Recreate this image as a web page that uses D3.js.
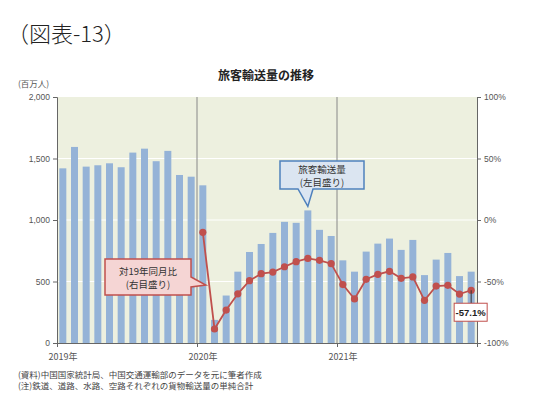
<!DOCTYPE html>
<html>
<head>
<meta charset="utf-8">
<script src="https://cdn.jsdelivr.net/npm/d3@7"></script>
<style>
  body { margin: 0; background: #fff; }
  svg { font-family: "Noto Sans CJK JP", "Noto Sans", sans-serif; }
</style>
</head>
<body>
<svg id="chart" width="540" height="414"></svg>
<script>
// Monthly passenger volume (million people), Jan 2019 - Dec 2021
const months = d3.range(36);
const passengers = [
  1420, 1594, 1434, 1445, 1461, 1429, 1548, 1580, 1478, 1562, 1366, 1352,
  1282, 188, 386, 580, 740, 805, 895, 985, 977, 1078, 920, 870,
  672, 580, 743, 808, 849, 757, 838, 552, 678, 732, 544, 580
];
// Change vs. same month of 2019 (%), from Jan 2020
const vs2019 = [
  -10.0, -88.6, -73.2, -60.0, -49.3, -43.6, -42.3, -38.0, -33.9, -31.2, -32.8, -35.5,
  -52.5, -64.2, -48.2, -44.2, -41.7, -47.4, -46.3, -65.3, -53.7, -53.1, -60.2, -57.1
];
const yearLabels = ["2019年", "2020年", "2021年"];
const leftTicks = [0, 500, 1000, 1500, 2000];
const rightTicks = [-100, -50, 0, 50, 100];

const svg = d3.select("#chart");
const margin = { top: 97, right: 63, bottom: 71, left: 57 };
const width = 540 - margin.left - margin.right;
const height = 414 - margin.top - margin.bottom;

svg.append("text")
  .attr("x", 7).attr("y", 42)
  .attr("font-size", 22).attr("font-weight", 300).attr("fill", "#222")
  .text("（図表-13）");

svg.append("text")
  .attr("x", 266).attr("y", 80)
  .attr("text-anchor", "middle")
  .attr("font-size", 12).attr("font-weight", "bold").attr("fill", "#222")
  .text("旅客輸送量の推移");

svg.append("text")
  .attr("x", 18).attr("y", 87)
  .attr("font-size", 8.5).attr("fill", "#555")
  .text("(百万人)");

const g = svg.append("g").attr("transform", `translate(${margin.left},${margin.top})`);

const x = d3.scaleBand().domain(months).range([0, width]).paddingInner(0.4).paddingOuter(0.2);
const xLin = d3.scaleLinear().domain([0, 36]).range([0, width]);
const y = d3.scaleLinear().domain([0, 2000]).range([height, 0]);
const y2 = d3.scaleLinear().domain([-100, 100]).range([height, 0]);

g.append("rect")
  .attr("width", width).attr("height", height)
  .attr("fill", "#edf0df");

// white gridlines
g.selectAll(".grid")
  .data(leftTicks.slice(1, -1))
  .join("line")
  .attr("x1", 0).attr("x2", width)
  .attr("y1", d => y(d)).attr("y2", d => y(d))
  .attr("stroke", "#fff").attr("stroke-width", 1.2);

// year dividers
g.selectAll(".yearline")
  .data([12, 24])
  .join("line")
  .attr("x1", d => xLin(d)).attr("x2", d => xLin(d))
  .attr("y1", 0).attr("y2", height)
  .attr("stroke", "#888").attr("stroke-width", 1);

g.selectAll(".bar")
  .data(passengers)
  .join("rect")
  .attr("x", (d, i) => x(i))
  .attr("y", d => y(d))
  .attr("width", x.bandwidth())
  .attr("height", d => height - y(d))
  .attr("fill", "#95b3d7");

// axes
const axisL = g.append("g")
  .call(d3.axisLeft(y).tickValues(leftTicks).tickSize(4).tickFormat(d3.format(",")));
const axisR = g.append("g")
  .attr("transform", `translate(${width},0)`)
  .call(d3.axisRight(y2).tickValues(rightTicks).tickSize(4).tickFormat(d => d + "%"));
const axisB = g.append("g")
  .attr("transform", `translate(0,${height})`)
  .call(d3.axisBottom(xLin).tickValues([0, 12, 24, 36]).tickSize(4).tickFormat(""));
[axisL, axisR, axisB].forEach(a => {
  a.selectAll("path, line").attr("stroke", "#666");
  a.selectAll("text").attr("fill", "#555").attr("font-size", 8.5)
    .attr("font-family", "Liberation Sans, Arial, sans-serif");
});

g.selectAll(".year")
  .data(yearLabels)
  .join("text")
  .attr("x", (d, i) => xLin(i * 12) + 6)
  .attr("y", height + 17)
  .attr("text-anchor", "middle")
  .attr("font-size", 9).attr("fill", "#555")
  .text(d => d);

// growth line
const lineData = vs2019.map((v, i) => ({ i: i + 12, v }));
const line = d3.line()
  .x(d => x(d.i) + x.bandwidth() / 2)
  .y(d => y2(d.v));

g.append("path")
  .datum(lineData)
  .attr("fill", "none")
  .attr("stroke", "#c0504d")
  .attr("stroke-width", 1.8)
  .attr("d", line);

g.selectAll(".pt")
  .data(lineData)
  .join("circle")
  .attr("cx", d => x(d.i) + x.bandwidth() / 2)
  .attr("cy", d => y2(d.v))
  .attr("r", 3.6)
  .attr("fill", "#c0504d");

// callout boxes with a pointer
function callout(box, tip, base, fill, stroke, lines) {
  const [bx, by, bw, bh] = box;
  const path = d3.path();
  path.moveTo(bx, by);
  path.lineTo(bx + bw, by);
  if (base.side === "right") {
    path.lineTo(bx + bw, base.a);
    path.lineTo(tip[0], tip[1]);
    path.lineTo(bx + bw, base.b);
    path.lineTo(bx + bw, by + bh);
    path.lineTo(bx, by + bh);
  } else {
    path.lineTo(bx + bw, by + bh);
    path.lineTo(base.b, by + bh);
    path.lineTo(tip[0], tip[1]);
    path.lineTo(base.a, by + bh);
    path.lineTo(bx, by + bh);
  }
  path.closePath();
  svg.append("path").attr("d", path.toString())
    .attr("fill", fill).attr("stroke", stroke).attr("stroke-width", 1.5);
  lines.forEach((t, k) => {
    svg.append("text")
      .attr("x", bx + bw / 2).attr("y", by + bh / 2 + (k - 0.5) * 13 + 4)
      .attr("text-anchor", "middle")
      .attr("font-size", 9.5).attr("fill", "#333")
      .text(t);
  });
}

const tipRed = [x(12) + x.bandwidth() / 2 + margin.left + 3, margin.top + 188];
callout([105, 259, 86, 36], tipRed, { side: "right", a: 277, b: 287 },
  "#f5d5d4", "#c0504d", ["対19年同月比", "(右目盛り)"]);

const tipBlue = [x(21) + x.bandwidth() / 2 + margin.left, y(1078) + margin.top - 4];
callout([280, 161, 84, 28], tipBlue, { side: "bottom", a: 298, b: 313 },
  "#dbe5f1", "#4f81bd", ["旅客輸送量", "(左目盛り)"]);

// last value label
const last = lineData[lineData.length - 1];
const lx = x(last.i) + x.bandwidth() / 2;
g.append("line")
  .attr("x1", lx).attr("x2", lx)
  .attr("y1", y2(last.v)).attr("y2", y2(last.v) + 13)
  .attr("stroke", "#333").attr("stroke-width", 1);
g.append("rect")
  .attr("x", lx - 17).attr("y", y2(last.v) + 13)
  .attr("width", 33).attr("height", 18)
  .attr("fill", "#fff").attr("stroke", "#c0504d").attr("stroke-width", 1);
g.append("text")
  .attr("x", lx - 0.5).attr("y", y2(last.v) + 26)
  .attr("text-anchor", "middle")
  .attr("font-size", 9.5).attr("font-weight", "bold").attr("fill", "#222")
  .attr("font-family", "Liberation Sans, Arial, sans-serif")
  .text(last.v.toFixed(1) + "%");

// notes
const notes = [
  "(資料)中国国家統計局、中国交通運輸部のデータを元に筆者作成",
  "(注)鉄道、道路、水路、空路それぞれの貨物輸送量の単純合計"
];
svg.selectAll(".note")
  .data(notes)
  .join("text")
  .attr("x", 18).attr("y", (d, i) => 378 + i * 11)
  .attr("font-size", 8.5).attr("fill", "#444")
  .text(d => d);
</script>
</body>
</html>
